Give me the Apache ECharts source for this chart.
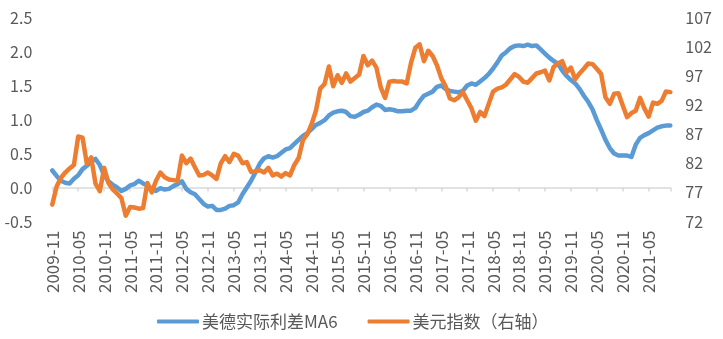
<!DOCTYPE html>
<html><head><meta charset="utf-8">
<script src="https://cdn.jsdelivr.net/npm/echarts@6/dist/echarts.min.js"></script>
<style>html,body{margin:0;padding:0;background:#fff}#c{width:723px;height:339px}</style>
</head><body><div id="c"></div>
<script>
// categories: monthly from 2009-11 to 2021-10
var startYear = 2009, startMonth = 11, monthCount = 144;
var categories = [];
for (var k = 0; k < monthCount; k++) {
  var m = startMonth - 1 + k;
  var y = startYear + Math.floor(m / 12);
  var mm = (m % 12) + 1;
  categories.push(y + '-' + (mm < 10 ? '0' + mm : mm));
}
var seriesNames = ['美德实际利差MA6', '美元指数（右轴）'];
var spreadMA6 = [
  0.25,0.17,0.10,0.07,0.06,0.13,0.18,0.27,0.32,0.38,0.42,0.33,
  0.18,0.09,0.04,0.00,-0.05,-0.02,0.03,0.05,0.10,0.06,0.03,-0.02,
  -0.05,-0.01,-0.03,-0.02,0.02,0.05,0.09,-0.02,-0.07,-0.10,-0.17,-0.24,
  -0.28,-0.27,-0.33,-0.33,-0.31,-0.27,-0.26,-0.22,-0.10,0.00,0.10,0.22,
  0.35,0.43,0.46,0.44,0.46,0.51,0.56,0.58,0.64,0.70,0.76,0.80,
  0.86,0.92,0.95,0.99,1.06,1.10,1.12,1.13,1.11,1.05,1.04,1.07,
  1.11,1.13,1.18,1.22,1.20,1.14,1.15,1.14,1.12,1.12,1.13,1.13,
  1.17,1.27,1.35,1.38,1.41,1.48,1.50,1.45,1.42,1.41,1.40,1.42,
  1.50,1.53,1.51,1.56,1.61,1.67,1.75,1.84,1.94,1.99,2.05,2.08,
  2.09,2.08,2.10,2.08,2.09,2.03,1.97,1.91,1.86,1.82,1.72,1.64,
  1.58,1.53,1.45,1.35,1.26,1.15,0.99,0.85,0.70,0.58,0.50,0.47,
  0.47,0.47,0.45,0.63,0.73,0.77,0.80,0.84,0.88,0.90,0.91,0.91
];
var dollarIndex = [
  74.9,78.0,79.5,80.4,81.1,81.7,86.6,86.4,81.9,83.0,78.5,77.2,
  81.2,78.6,77.5,76.8,76.0,73.0,74.5,74.4,74.2,74.3,78.6,77.0,
  79.0,80.4,79.6,79.2,79.1,79.0,83.3,82.0,82.8,81.3,79.9,80.0,
  80.4,79.9,79.3,82.0,83.2,82.2,83.6,83.3,82.0,82.2,80.5,80.6,
  80.8,80.4,81.2,79.9,80.2,79.7,80.3,79.9,81.7,82.9,86.0,87.0,
  88.7,91.0,94.8,95.6,98.6,95.2,97.1,95.8,97.4,96.0,96.6,97.2,
  100.4,98.8,99.6,98.4,95.0,93.2,96.0,96.1,96.0,96.0,95.7,99.2,
  101.8,102.4,99.5,101.3,100.4,98.8,96.6,95.2,93.1,92.8,93.3,94.2,
  92.8,91.4,89.3,90.8,90.1,92.2,94.3,94.8,95.0,95.5,96.4,97.3,
  96.8,96.0,95.8,96.6,97.4,97.6,97.9,96.2,98.5,99.1,99.5,97.6,
  98.4,96.4,97.4,98.2,99.1,99.0,98.2,97.3,93.3,92.2,93.9,94.0,
  91.9,89.9,90.6,91.0,93.2,91.4,90.0,92.4,92.2,92.7,94.3,94.2
];
var leftTicks = { min: -0.5, max: 2.5, step: 0.5 };
var rightTicks = { min: 72, max: 107, step: 5 };

var chart = echarts.init(document.getElementById('c'), null, { renderer: 'canvas' });
var FONT = '"Noto Sans CJK SC", "Noto Sans", sans-serif';
var TXT = '#595959';
chart.setOption({
  animation: false,
  textStyle: { fontFamily: FONT },
  grid: { left: 52.3, right: 52.7, top: 17.5, bottom: 117.5, containLabel: false },
  legend: {
    data: seriesNames,
    left: 157, top: 313, padding: 0,
    itemWidth: 42, itemHeight: 4, itemGap: 30,
    icon: 'roundRect',
    textStyle: { fontSize: 17, color: TXT, fontFamily: FONT, padding: [0, 0, 0, -2] }
  },
  xAxis: [{
    type: 'category', data: categories, boundaryGap: false, position: 'bottom',
    axisLine: { show: false, onZero: false },
    axisTick: { show: false },
    axisLabel: {
      rotate: 90, margin: 9, fontSize: 17, color: TXT, fontFamily: FONT,
      interval: function (i) { return i % 6 === 0; }
    }
  }, {
    type: 'category', data: categories, boundaryGap: false, position: 'bottom',
    axisLine: { show: true, onZero: true, onZeroAxisIndex: 0, lineStyle: { color: '#D9D9D9', width: 1.5 } },
    axisTick: { show: true, length: 4, lineStyle: { color: '#D9D9D9', width: 1.5 },
      interval: function (i) { return i % 6 === 0 || i === monthCount - 1; } },
    axisLabel: { show: false }
  }],
  yAxis: [{
    type: 'value', min: leftTicks.min, max: leftTicks.max, interval: leftTicks.step,
    axisLine: { show: false }, axisTick: { show: false }, splitLine: { show: false },
    axisLabel: { margin: 20, fontSize: 16, color: TXT, fontFamily: FONT,
      formatter: function (v) { return v.toFixed(1); } }
  }, {
    type: 'value', min: rightTicks.min, max: rightTicks.max, interval: rightTicks.step,
    axisLine: { show: false }, axisTick: { show: false }, splitLine: { show: false },
    axisLabel: { margin: 15, fontSize: 16, color: TXT, fontFamily: FONT }
  }],
  series: [{
    name: seriesNames[0], type: 'line', data: spreadMA6, xAxisIndex: 0, yAxisIndex: 0,
    showSymbol: false, symbol: 'none', smooth: false,
    lineStyle: { color: '#5B9BD5', width: 4.5, cap: 'round', join: 'round' },
    itemStyle: { color: '#5B9BD5' }
  }, {
    name: seriesNames[1], type: 'line', data: dollarIndex, xAxisIndex: 0, yAxisIndex: 1,
    showSymbol: false, symbol: 'none', smooth: false,
    lineStyle: { color: '#ED7D31', width: 4.5, cap: 'round', join: 'round' },
    itemStyle: { color: '#ED7D31' }
  }]
});
</script></body></html>
